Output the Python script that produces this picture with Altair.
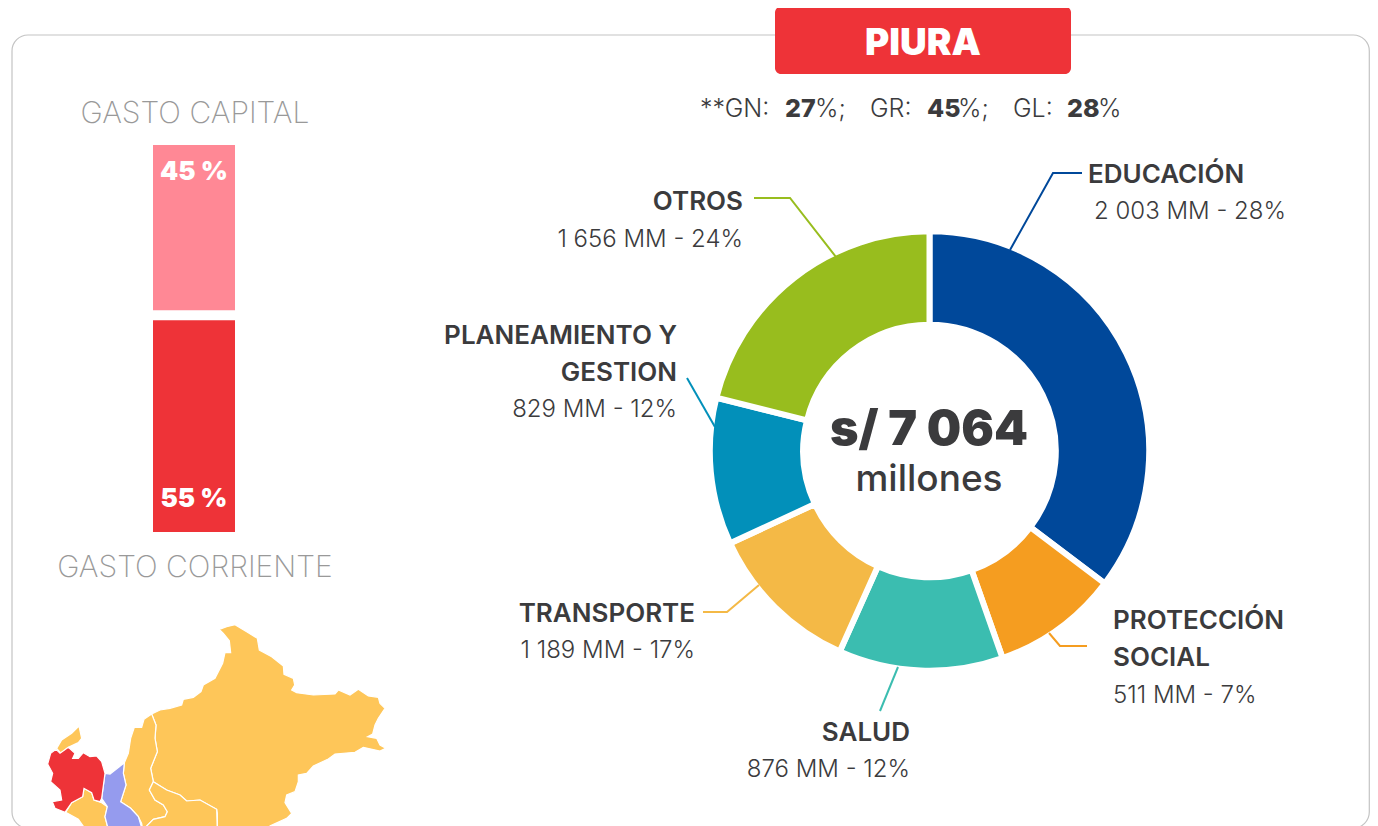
import altair as alt
import pandas as pd

FONT = "Inter"
DARK = "#3B3B3D"
GREY = "#999999"
W, H = 1362, 825

# donut: slices as drawn in the picture (share of the circle, %)
sectors = ["EDUCACIÓN", "PROTECCIÓN SOCIAL", "SALUD", "TRANSPORTE", "PLANEAMIENTO Y GESTION", "OTROS"]
slice_share = [35.3, 9.3, 12.1, 11.4, 10.8, 21.1]
sector_colors = ["#00489A", "#F59D20", "#3BBDB0", "#F4B946", "#0290BA", "#98BD1E"]

# stacked bar
bar_names = ["GASTO CORRIENTE", "GASTO CAPITAL"]
bar_values = [55, 45]
bar_colors = ["#EE3338", "#FF8895"]

# leader lines: (x, y)
leader_edu_x, leader_edu_y = [1082, 1053, 1010], [173, 173, 250]
leader_otros_x, leader_otros_y = [754, 790, 836], [198, 198, 257]
leader_plan_x, leader_plan_y = [687, 715], [378, 427]
leader_trans_x, leader_trans_y = [703, 727, 759], [612, 612, 585]
leader_salud_x, leader_salud_y = [898, 880], [667, 711]
leader_prot_x, leader_prot_y = [1049, 1060, 1087], [633, 646, 646]

# map outlines (map units)
map_big = [[455,312],[480,300],[510,295],[545,285],[550,268],[580,262],[603,245],[610,225],[645,205],[668,160],[675,128],[692,128],[688,92],[670,70],[658,58],[680,50],[705,44],[740,65],[772,85],[778,120],[815,140],[850,168],[852,193],[880,205],[884,225],[875,240],[890,248],[940,255],[1005,252],[1015,240],[1050,255],[1075,238],[1105,258],[1135,262],[1140,280],[1155,295],[1135,325],[1125,345],[1118,372],[1103,380],[1130,385],[1140,405],[1157,415],[1140,423],[1090,412],[1065,427],[1005,432],[985,447],[940,468],[920,490],[895,495],[895,515],[885,545],[860,555],[855,578],[875,610],[860,625],[810,648],[810,670],[652,670],[652,610],[650,598],[600,570],[560,573],[540,555],[500,540],[460,515],[452,475],[472,425],[465,385],[468,345],[455,312]]
map_strip = [[455,312],[468,345],[465,385],[472,425],[452,475],[460,515],[448,540],[465,570],[490,585],[502,605],[495,620],[460,628],[440,648],[430,670],[425,640],[415,620],[392,595],[362,575],[378,525],[370,490],[373,458],[385,430],[392,385],[403,352],[425,352],[432,328],[455,312]]
map_mid = [[460,515],[500,540],[540,555],[560,573],[600,570],[650,598],[652,670],[430,670],[440,648],[460,628],[495,620],[502,605],[490,585],[465,570],[448,540],[460,515]]
map_lilac = [[373,458],[370,490],[378,525],[362,575],[392,595],[415,620],[430,670],[328,670],[315,620],[322,590],[305,565],[315,490],[330,492],[358,470],[373,458]]
map_red = [[168,418],[180,430],[205,412],[225,430],[218,445],[235,445],[250,428],[270,440],[290,438],[305,455],[315,490],[305,565],[300,575],[282,570],[275,548],[252,535],[248,560],[215,578],[195,607],[165,595],[157,575],[185,570],[180,540],[152,515],[158,490],[143,462],[152,430],[168,418]]
map_low = [[252,535],[275,548],[282,570],[305,578],[322,590],[315,620],[328,670],[265,670],[235,628],[197,607],[215,578],[248,560],[252,535]]
map_top = [[170,415],[185,390],[215,370],[237,348],[245,385],[235,398],[205,412],[183,430],[170,415]]
map_shapes = [map_big, map_strip, map_mid, map_low, map_top, map_lilac, map_red]
map_colors = ["#FEC659", "#FEC659", "#FEC659", "#FEC659", "#FEC659", "#959BEE", "#EE3338"]

one = alt.Data(values=[{"a": 1}])


def px(v):
    return alt.value(v - 8)


def text(t, x, y, size, weight=400, color=DARK, align="center"):
    return alt.Chart(one).mark_text(
        font=FONT, fontSize=size, fontWeight=weight, color=color, align=align, baseline="middle"
    ).encode(x=px(x), y=px(y + 2), text=alt.value(t))


def leader(xs, ys, color):
    df = pd.DataFrame({"x": xs, "y": ys, "i": range(len(xs))})
    return alt.Chart(df).mark_line(color=color, strokeWidth=2).encode(
        x=alt.X("x:Q", axis=None, scale=alt.Scale(domain=[8, 8 + W], range=[0, W], nice=False, zero=False)),
        y=alt.Y("y:Q", axis=None, scale=alt.Scale(domain=[8, 8 + H], range=[0, H], nice=False, zero=False)),
        order="i:Q",
    )


card = alt.Chart(one).mark_rect(fill="white", stroke="#C4C4C4", strokeWidth=1.2, cornerRadius=16).encode(
    x=px(12), x2=px(1369.3), y=px(35), y2=px(828)
)
badge = alt.Chart(one).mark_rect(fill="#EE3338", cornerRadius=6).encode(
    x=px(775), x2=px(1071), y=px(6.5), y2=px(74)
)

# bar
bdf = pd.DataFrame({"name": bar_names, "value": bar_values, "color": bar_colors})
bdf["start"] = bdf["value"].cumsum() - bdf["value"]
bdf["end"] = bdf["value"].cumsum()
yscale = alt.Scale(domain=[0, 100], range=[532 - 8, 145 - 8], nice=False)
bars = []
for i, row in bdf.iterrows():
    bars.append(
        alt.Chart(bdf.iloc[[i]]).mark_bar(color=row["color"]).encode(
            x=px(153), x2=px(235),
            y=alt.Y("start:Q", axis=None, scale=yscale),
            y2="end:Q",
        )
    )
bar_gap = alt.Chart(bdf.iloc[[0]]).mark_rule(color="white", strokeWidth=10).encode(
    x=px(152), x2=px(236),
    y=alt.Y("end:Q", axis=None, scale=alt.Scale(domain=[0, 100], range=[532 - 8 - 4, 145 - 8 - 4], nice=False)),
)

# donut
ddf = pd.DataFrame({"sector": sectors, "share": slice_share, "k": range(len(sectors))})
donut = alt.Chart(ddf).mark_arc(
    outerRadius=219.7, innerRadius=126.3, stroke="white", strokeWidth=6
).encode(
    x=px(929.5), y=px(451),
    theta=alt.Theta("share:Q", stack=True),
    order=alt.Order("k:Q"),
    color=alt.Color("sector:N", legend=None, scale=alt.Scale(domain=sectors, range=sector_colors)),
)

# map
features = [
    {"type": "Feature", "properties": {"c": c}, "geometry": {"type": "Polygon", "coordinates": [s]}}
    for s, c in zip(map_shapes, map_colors)
]
geo = alt.Chart(alt.Data(values=features)).mark_geoshape(stroke="white", strokeWidth=1.2, clip=True).encode(
    fill=alt.Fill("properties.c:N", scale=None)
).project(type="identity", scale=1 / 3, translate=[-8, 602])

layers = [card, badge, geo] + bars + [bar_gap, donut]
layers += [
    leader(leader_edu_x, leader_edu_y, sector_colors[0]),
    leader(leader_otros_x, leader_otros_y, sector_colors[5]),
    leader(leader_plan_x, leader_plan_y, sector_colors[4]),
    leader(leader_trans_x, leader_trans_y, sector_colors[3]),
    leader(leader_salud_x, leader_salud_y, sector_colors[2]),
    leader(leader_prot_x, leader_prot_y, sector_colors[1]),
]
BOLD = 26
VAL = 24
RS = 25
layers += [
    text("PIURA", 923, 42, 37, 900, "white"),
    text("**GN:", 700, 107, RS, 300, align="left"),
    text("27", 785, 107, RS, 800, align="left"),
    text("%;", 815, 107, RS, 300, align="left"),
    text("GR:", 870, 107, RS, 300, align="left"),
    text("45", 927, 107, RS, 800, align="left"),
    text("%;", 958, 107, RS, 300, align="left"),
    text("GL:", 1013, 107, RS, 300, align="left"),
    text("28", 1067, 107, RS, 800, align="left"),
    text("%", 1098, 107, RS, 300, align="left"),
    text("GASTO CAPITAL", 195, 112, 30, 200, GREY),
    text("GASTO CORRIENTE", 195, 566, 30, 200, GREY),
    text("45 %", 194, 170, 26, 900, "white"),
    text("55 %", 194, 497, 26, 900, "white"),
    text("s/ 7 064", 929, 428, 48.5, 900),
    text("millones", 929, 478, 37, 500),
    text("EDUCACIÓN", 1088, 173, BOLD, 600, align="left"),
    text("2 003 MM - 28%", 1094, 210, VAL, 300, align="left"),
    text("OTROS", 743, 200, BOLD, 600, align="right"),
    text("1 656 MM - 24%", 743, 238, VAL, 300, align="right"),
    text("PLANEAMIENTO Y", 677, 334, BOLD, 600, align="right"),
    text("GESTION", 677, 371, BOLD, 600, align="right"),
    text("829 MM - 12%", 677, 408, VAL, 300, align="right"),
    text("TRANSPORTE", 695, 612, BOLD, 600, align="right"),
    text("1 189 MM - 17%", 695, 649, VAL, 300, align="right"),
    text("SALUD", 910, 731, BOLD, 600, align="right"),
    text("876 MM - 12%", 910, 768, VAL, 300, align="right"),
    text("PROTECCIÓN", 1113, 619, BOLD, 600, align="left"),
    text("SOCIAL", 1113, 656, BOLD, 600, align="left"),
    text("511 MM - 7%", 1113, 694, VAL, 300, align="left"),
]

chart = alt.layer(*layers).resolve_scale(
    x="independent", y="independent", color="independent", fill="independent", theta="independent"
).properties(
    width=W, height=H, padding=0, autosize=alt.AutoSizeParams(type="none")
).configure_view(stroke=None)

chart.save("out.html", embed_options={"renderer": "svg", "actions": False})
